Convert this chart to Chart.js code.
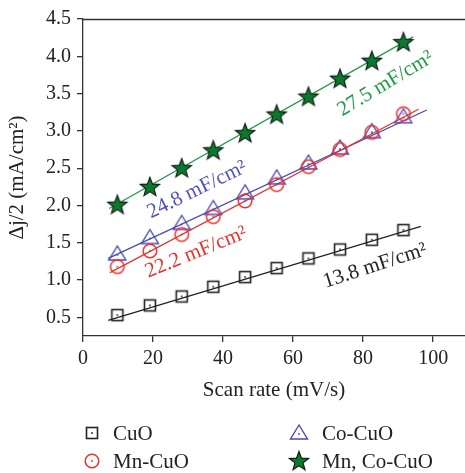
<!DOCTYPE html>
<html>
<head>
<meta charset="utf-8">
<script src="https://cdn.jsdelivr.net/npm/chart.js@4.4.1/dist/chart.umd.min.js"></script>
<style>
  html, body { margin: 0; padding: 0; background: #fff; overflow: hidden; }
  #wrap { width: 465px; height: 473px; }
</style>
</head>
<body>
<div id="wrap"><canvas id="c" width="465" height="473"></canvas></div>
<script>
// ---- data ----
const scanRate = [9.8, 19.1, 28.2, 37.2, 46.3, 55.3, 64.4, 73.4, 82.5, 91.5];
const cuo      = [0.53, 0.66, 0.78, 0.91, 1.04, 1.16, 1.29, 1.41, 1.54, 1.67];
const mnCuo    = [1.18, 1.39, 1.61, 1.85, 2.06, 2.28, 2.52, 2.75, 2.98, 3.23];
const coCuo    = [1.35, 1.57, 1.76, 1.96, 2.17, 2.37, 2.57, 2.77, 2.99, 3.19];
const mnCoCuo  = [2.01, 2.25, 2.50, 2.74, 2.97, 3.22, 3.46, 3.70, 3.94, 4.19];
// linear-fit line endpoints [x, y]
const cuoFit     = [[7.2, 0.46], [96.5, 1.72]];
const mnCuoFit   = [[7.7, 1.10], [95.8, 3.29]];
const coCuoFit   = [[7.2, 1.29], [98.2, 3.28]];
const mnCoCuoFit = [[7.5, 1.96], [94.3, 4.26]];
const seriesNames = ['CuO', 'Mn-CuO', 'Co-CuO', 'Mn, Co-CuO'];
const slopeLabels = ['13.8 mF/cm²', '22.2 mF/cm²', '24.8 mF/cm²', '27.5 mF/cm²'];
const xTicks = [0, 20, 40, 60, 80, 100];
const yTicks = [0.5, 1.0, 1.5, 2.0, 2.5, 3.0, 3.5, 4.0, 4.5];

// ---- styles ----
const FONT = '"Liberation Serif", "Times New Roman", serif';
const FS = 21;
const FT = 20;
const colors = { cuo: '#222222', mn: '#e8322b', co: '#4848b8', mnco: '#1f9a46', star: '#0b7a2c' };

function mk(w, h, draw) {
  const c = document.createElement('canvas');
  c.width = w; c.height = h;
  const ctx = c.getContext('2d');
  draw(ctx, w, h);
  return c;
}
function dot(ctx, x, y, col) {
  ctx.fillStyle = col;
  ctx.beginPath(); ctx.arc(x, y, 0.9, 0, Math.PI * 2); ctx.fill();
}
const squareImg = mk(16, 16, (ctx) => {
  ctx.strokeStyle = colors.cuo; ctx.lineWidth = 1.6;
  ctx.strokeRect(2.5, 2.5, 11, 11);
  dot(ctx, 8, 8, colors.cuo);
});
const circleImg = mk(18, 18, (ctx) => {
  ctx.strokeStyle = colors.mn; ctx.lineWidth = 1.5;
  ctx.beginPath(); ctx.arc(9, 9, 6.8, 0, Math.PI * 2); ctx.stroke();
  dot(ctx, 9, 9, colors.mn);
});
const triImg = mk(20, 20, (ctx) => {
  ctx.strokeStyle = colors.co; ctx.lineWidth = 1.4;
  ctx.beginPath(); ctx.moveTo(10, 2); ctx.lineTo(18.5, 16); ctx.lineTo(1.5, 16); ctx.closePath(); ctx.stroke();
  dot(ctx, 10, 11, colors.co);
});
const starImg = mk(24, 24, (ctx) => {
  const cx = 12, cy = 12.6, R = 10.2, r = 4.3;
  ctx.beginPath();
  for (let i = 0; i < 10; i++) {
    const rad = i % 2 === 0 ? R : r;
    const a = -Math.PI / 2 + i * Math.PI / 5;
    const px = cx + rad * Math.cos(a), py = cy + rad * Math.sin(a);
    if (i === 0) ctx.moveTo(px, py); else ctx.lineTo(px, py);
  }
  ctx.closePath();
  ctx.fillStyle = colors.star; ctx.fill();
  ctx.strokeStyle = '#111'; ctx.lineWidth = 1.1; ctx.stroke();
});

const pts = (xs, ys) => xs.map((x, i) => ({ x, y: ys[i] }));
const fit = (arr) => arr.map(p => ({ x: p[0], y: p[1] }));

function lineDs(data, color) {
  return { type: 'line', data: fit(data), borderColor: color, borderWidth: 1.3,
           pointRadius: 0, fill: false, order: 2 };
}
function ptDs(label, ys, img) {
  return { type: 'scatter', label, data: pts(scanRate, ys), pointStyle: img,
           pointRadius: 8, showLine: false, order: 1 };
}

// label anchors in data coordinates, angle in degrees
const annotations = [
  { text: slopeLabels[0], x: 83.4, y: 1.19, angle: 18, color: colors.cuo },
  { text: slopeLabels[1], x: 32.3, y: 1.37, angle: 22, color: colors.mn },
  { text: slopeLabels[2], x: 32.6, y: 2.21, angle: 26, color: '#5050c0' },
  { text: slopeLabels[3], x: 86.4, y: 3.63, angle: 31, color: colors.mnco },
];

const decor = {
  id: 'decor',
  afterDraw(chart) {
    const { ctx, chartArea, scales } = chart;
    ctx.save();
    // top frame line
    ctx.strokeStyle = '#333'; ctx.lineWidth = 1.3;
    ctx.beginPath(); ctx.moveTo(chartArea.left, chartArea.top + 0.5); ctx.lineTo(chartArea.right, chartArea.top + 0.5); ctx.stroke();
    // slope labels
    ctx.font = FS + 'px ' + FONT;
    ctx.textAlign = 'center'; ctx.textBaseline = 'middle';
    annotations.forEach(a => {
      ctx.save();
      ctx.translate(scales.x.getPixelForValue(a.x), scales.y.getPixelForValue(a.y));
      ctx.rotate(-a.angle * Math.PI / 180);
      ctx.fillStyle = a.color;
      ctx.fillText(a.text, 0, 0);
      ctx.restore();
    });
    // legend (two columns)
    const items = [
      { img: squareImg, name: seriesNames[0], mx: 92, tx: 113, y: 433 },
      { img: triImg,    name: seriesNames[2], mx: 299, tx: 322, y: 433 },
      { img: circleImg, name: seriesNames[1], mx: 92, tx: 113, y: 461 },
      { img: starImg,   name: seriesNames[3], mx: 299, tx: 322, y: 461 },
    ];
    ctx.textAlign = 'left'; ctx.textBaseline = 'middle'; ctx.fillStyle = '#222';
    items.forEach(it => {
      ctx.drawImage(it.img, it.mx - it.img.width / 2, it.y - it.img.height / 2);
      ctx.fillText(it.name, it.tx, it.y + 1);
    });
    ctx.restore();
  }
};

new Chart(document.getElementById('c'), {
  data: {
    datasets: [
      lineDs(cuoFit, colors.cuo),
      lineDs(mnCuoFit, colors.mn),
      lineDs(coCuoFit, colors.co),
      lineDs(mnCoCuoFit, colors.mnco),
      ptDs(seriesNames[0], cuo, squareImg),
      ptDs(seriesNames[1], mnCuo, circleImg),
      ptDs(seriesNames[2], coCuo, triImg),
      ptDs(seriesNames[3], mnCoCuo, starImg),
    ]
  },
  options: {
    responsive: false,
    animation: false,
    events: [],
    layout: { autoPadding: false, padding: { top: 19, right: 0, bottom: 67, left: 0 } },
    plugins: { legend: { display: false }, tooltip: { enabled: false } },
    scales: {
      x: {
        type: 'linear', min: 0, max: 109.1,
        afterBuildTicks: (s) => { s.ticks = xTicks.map(v => ({ value: v })); },
        afterFit: (s) => { s.height = 70; s.paddingLeft = 0; s.paddingRight = 0; },
        ticks: { font: { family: FONT, size: FT }, color: '#222', padding: 5, maxRotation: 0, includeBounds: false },
        grid: { drawOnChartArea: false, tickLength: 6, color: '#333', lineWidth: 1.3 },
        border: { display: true, color: '#333', width: 1.3 },
        title: { display: true, text: 'Scan rate (mV/s)', font: { family: FONT, size: FS }, color: '#222', padding: { top: 0, bottom: 3 } }
      },
      y: {
        type: 'linear', min: 0.25, max: 4.5,
        afterBuildTicks: (s) => { s.ticks = yTicks.map(v => ({ value: v })); },
        afterFit: (s) => { s.width = 83; s.paddingTop = 0; s.paddingBottom = 0; },
        ticks: { font: { family: FONT, size: FT }, color: '#222', padding: 6, includeBounds: false,
                 callback: (v) => Number(v).toFixed(1) },
        grid: { drawOnChartArea: false, tickLength: 6, color: '#333', lineWidth: 1.3 },
        border: { display: true, color: '#333', width: 1.3 },
        title: { display: true, text: 'Δj/2 (mA/cm²)', font: { family: FONT, size: FS }, color: '#222', padding: { top: 5, bottom: 4 } }
      }
    }
  },
  plugins: [decor]
});
</script>
</body>
</html>
